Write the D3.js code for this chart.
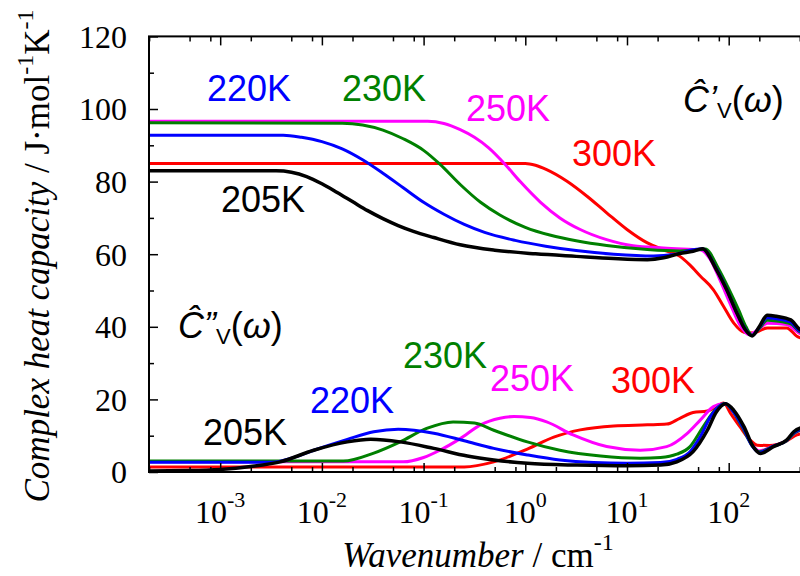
<html><head>
<script src="https://d3js.org/d3.v7.min.js"></script>
<style>
  body { margin: 0; background: #fff; }
  .curve { fill: none; stroke-linejoin: round; }
</style>
</head>
<body>
<script>
// x values are log10(wavenumber / cm^-1), y in J mol^-1 K^-1
// real part C'
var cp205 = [[-3.7,83],[-2.45,83],[-2.3,82.6],[-2.15,81.4],[-2.0,79.4],[-1.85,77],[-1.7,74.5],[-1.55,72],[-1.4,69.8],[-1.25,67.9],[-1.1,66.3],[-0.9,64.6],[-0.64,62.6],[-0.3,61.1],[0.1,60.1],[0.5,59.4],[0.87,58.8],[1.2,58.5],[1.36,59],[1.52,60.2],[1.65,60.8],[1.74,61.5],[1.88,55.7],[1.98,50.2],[2.08,43.8],[2.16,39.3],[2.23,37.5],[2.3,40],[2.38,43.2],[2.47,42.9],[2.61,41.9],[2.69,39.5],[2.75,38.5]];
var cp220 = [[-3.7,92.8],[-2.38,92.8],[-2.2,92.2],[-2.0,91],[-1.8,89],[-1.6,86],[-1.4,82.3],[-1.2,78.3],[-1.0,74.3],[-0.8,71],[-0.6,68.2],[-0.4,66],[-0.1,63.8],[0.2,62.2],[0.5,61],[0.87,60],[1.26,59.5],[1.46,59.9],[1.65,61.2],[1.74,61.5],[1.87,56.5],[1.97,51],[2.07,44.5],[2.15,40],[2.23,37.6],[2.3,39.8],[2.38,42.5],[2.47,42.2],[2.61,41.3],[2.69,39],[2.75,38.2]];
var cp230 = [[-3.7,96.2],[-1.8,96.1],[-1.6,95.6],[-1.4,94.2],[-1.2,91.8],[-1.0,88.6],[-0.84,84.8],[-0.64,79.2],[-0.44,74.3],[-0.25,70.8],[0.0,67.4],[0.25,65.2],[0.5,63.7],[0.8,62.4],[1.2,61.3],[1.52,60.9],[1.7,61.2],[1.77,61.4],[1.9,56],[2.0,50.5],[2.1,44.5],[2.17,40],[2.23,37.7],[2.3,39.5],[2.38,41.8],[2.47,41.6],[2.61,40.8],[2.69,38.8],[2.75,38]];
var cp250 = [[-3.7,96.6],[-0.96,96.6],[-0.8,96],[-0.64,94.3],[-0.5,92.2],[-0.36,89.3],[-0.2,84.8],[-0.05,80],[0.15,74.3],[0.34,70],[0.54,66.8],[0.8,64],[1.06,62.3],[1.36,61.7],[1.65,61.3],[1.72,61.2],[1.82,58.5],[1.92,52.5],[2.02,46],[2.11,40.5],[2.2,37.8],[2.3,39.5],[2.38,41],[2.57,40.6],[2.69,38.3],[2.75,37.5]];
var cp300 = [[-3.7,85],[0.0,85],[0.1,84.5],[0.21,83.3],[0.41,80.1],[0.61,75.9],[0.8,71.4],[1.0,66.8],[1.2,63.1],[1.36,61.2],[1.52,59.4],[1.62,57],[1.72,54],[1.85,50.2],[1.95,45.6],[2.05,41],[2.15,38.5],[2.24,38.3],[2.38,39.7],[2.57,39.7],[2.67,37.4],[2.75,36.5]];
// imaginary part C''
var cpp205 = [[-3.7,0.3],[-3.3,0.4],[-3.0,0.7],[-2.7,1.5],[-2.41,2.8],[-2.08,6.0],[-1.75,8.3],[-1.52,9.0],[-1.23,8.3],[-0.9,6.5],[-0.57,4.4],[-0.31,3.3],[0.02,2.4],[0.51,1.9],[1.0,1.7],[1.33,1.9],[1.49,2.8],[1.65,5.6],[1.79,11.5],[1.88,16.6],[1.97,18.8],[2.05,17.0],[2.15,12.5],[2.24,7.0],[2.31,5.1],[2.44,7.0],[2.57,8.8],[2.64,11.1],[2.75,12.5]];
var cpp220 = [[-3.7,2.7],[-2.48,2.7],[-2.3,3.8],[-2.08,6.0],[-1.75,9.0],[-1.49,11.1],[-1.25,11.8],[-0.9,10.7],[-0.6,8.6],[-0.31,6.5],[0.02,4.7],[0.34,3.3],[0.67,2.6],[1.0,2.4],[1.33,2.6],[1.49,3.5],[1.62,5.6],[1.72,9.7],[1.82,15.2],[1.93,18.5],[1.97,18.8],[2.04,16.8],[2.14,12.3],[2.23,7.2],[2.3,5.4],[2.44,7.1],[2.57,8.7],[2.64,10.8],[2.75,12.2]];
var cpp230 = [[-3.7,3.0],[-1.79,3.0],[-1.49,5.2],[-1.23,8.3],[-0.97,12.0],[-0.71,13.8],[-0.5,13.5],[-0.31,11.5],[0.02,8.3],[0.34,6.0],[0.74,4.4],[1.13,3.8],[1.33,4.0],[1.49,4.9],[1.62,7.0],[1.75,12.5],[1.88,17.5],[1.96,18.9],[2.04,16.8],[2.13,12.5],[2.23,7.3],[2.3,5.6],[2.44,7.1],[2.57,8.6],[2.64,10.6],[2.75,12]];
var cpp250 = [[-3.7,2.8],[-1.2,2.8],[-1.0,4.0],[-0.84,6.0],[-0.64,9.2],[-0.44,13.0],[-0.25,14.8],[-0.11,15.3],[0.05,15.0],[0.21,13.8],[0.47,10.2],[0.8,7.0],[1.13,6.0],[1.39,7.0],[1.59,10.6],[1.72,14.3],[1.85,18],[1.95,18.8],[2.03,17.5],[2.13,12.8],[2.23,7.5],[2.3,5.8],[2.44,7.2],[2.57,8.6],[2.64,10.5],[2.75,12]];
var cpp300 = [[-3.7,1.4],[-0.6,1.4],[-0.31,2.8],[0.02,6.3],[0.28,9.6],[0.54,11.6],[0.87,12.7],[1.2,13.0],[1.39,13.2],[1.52,14.8],[1.65,16.4],[1.79,16.8],[1.88,18.0],[1.95,19.0],[2.02,16.1],[2.11,12.5],[2.21,8.8],[2.28,7.4],[2.4,7.3],[2.57,8.6],[2.67,10.2],[2.75,10.8]];

var colors = ["#ff0000","#ff00ff","#008000","#0000ff","#000000"];
var realSeries = [cp300, cp250, cp230, cp220, cp205];
var imagSeries = [cpp300, cpp250, cpp230, cpp220, cpp205];
var yTicks = [0,20,40,60,80,100,120];
var yMinorTicks = [10,30,50,70,90,110];
var xTickExps = [-3,-2,-1,0,1,2];
var upperLabels = [["300K",572,166],["250K",466,121],["230K",342,101],["220K",207,101],["205K",221,212]];
var lowerLabels = [["300K",611,393],["250K",490,391],["230K",403,368],["220K",310,413],["205K",203,445]];

var SERIF = "Liberation Serif";
var SANS = "Liberation Sans";

var width = 800, height = 576;
var x = d3.scaleLog().domain([Math.pow(10,-3.7), 1000]).range([149, 830.4]);
var y = d3.scaleLinear().domain([0,120]).range([472, 36.4]);

var svg = d3.select("body").append("svg")
    .attr("width", width).attr("height", height);

svg.append("rect").attr("width", width).attr("height", height).attr("fill", "#fff");

svg.append("clipPath").attr("id","clip").append("rect")
    .attr("x",149).attr("y",36).attr("width",700).attr("height",436);

var line = d3.line()
    .x(function(d) { return x(Math.pow(10, d[0])); })
    .y(function(d) { return y(d[1]); })
    .curve(d3.curveMonotoneX);

var curves = svg.append("g").attr("clip-path","url(#clip)");
realSeries.concat(imagSeries).forEach(function(s, i) {
  curves.append("path")
     .datum(s)
     .attr("class","curve")
     .attr("stroke", colors[i % 5])
     .attr("stroke-width", i % 5 == 4 ? 3.5 : 3)
     .attr("d", line);
});

// minor x ticks at 2,5,8 per decade
var xMinor = [];
for (var e = -4; e <= 2; e++) [2,5,8].forEach(function(m){ var v = m*Math.pow(10,e); if (v > x.domain()[0] && v < 1000) xMinor.push(v); });
var xMajor = xTickExps.map(function(e){ return Math.pow(10,e); });

function noText(g){ g.select(".domain").remove(); g.selectAll("text").remove(); g.selectAll("line").attr("stroke","#000").attr("stroke-width",1.5); }

svg.append("g").attr("transform","translate(0,472)")
   .call(d3.axisBottom(x).tickValues(xMajor).tickSizeInner(-9).tickSizeOuter(0)).call(noText);
svg.append("g").attr("transform","translate(0,472)")
   .call(d3.axisBottom(x).tickValues(xMinor).tickSizeInner(-5).tickSizeOuter(0)).call(noText);
svg.append("g").attr("transform","translate(0,36.4)")
   .call(d3.axisTop(x).tickValues(xMajor).tickSizeInner(-9).tickSizeOuter(0)).call(noText);
svg.append("g").attr("transform","translate(0,36.4)")
   .call(d3.axisTop(x).tickValues(xMinor).tickSizeInner(-5).tickSizeOuter(0)).call(noText);

var yAx = svg.append("g").attr("transform","translate(149,0)")
   .call(d3.axisLeft(y).tickValues(yTicks).tickSizeInner(-9).tickSizeOuter(0).tickPadding(22));
yAx.select(".domain").remove();
yAx.attr("font-family", SERIF).attr("font-size", 32);
yAx.selectAll("line").attr("stroke","#000").attr("stroke-width",1.5);
yAx.selectAll("text").attr("fill","#000").attr("dy","0.34em");
svg.append("g").attr("transform","translate(149,0)")
   .call(d3.axisLeft(y).tickValues(yMinorTicks).tickSizeInner(-5).tickSizeOuter(0)).call(noText);

// frame
svg.append("rect").attr("x",149).attr("y",36.4).attr("width",830.4-149).attr("height",472-36.4)
   .attr("fill","none").attr("stroke","#000").attr("stroke-width",2);

// x tick labels 10^n
xTickExps.forEach(function(e) {
  var t = svg.append("text").attr("x", x(Math.pow(10,e))).attr("y", 523)
     .attr("text-anchor","middle").attr("font-family", SERIF).attr("font-size", 32);
  t.append("tspan").text("10");
  t.append("tspan").attr("font-size", 22).attr("dy", -16).text(e < 0 ? "-" + (-e) : e);
});

// axis titles
var xt = svg.append("text").attr("x", 478).attr("y", 567).attr("text-anchor","middle")
   .attr("font-family", SERIF).attr("font-size", 35);
xt.append("tspan").attr("font-style","italic").text("Wavenumber");
xt.append("tspan").text(" / cm");
xt.append("tspan").attr("font-size", 24).attr("dy", -17).text("-1");

var yt = svg.append("text").attr("transform","translate(49,256) rotate(-90)").attr("text-anchor","middle")
   .attr("font-family", SERIF).attr("font-size", 35);
yt.append("tspan").attr("font-style","italic").text("Complex heat capacity");
yt.append("tspan").text(" / J\u00b7mol");
yt.append("tspan").attr("font-size", 24).attr("dy", -16).text("-1");
yt.append("tspan").attr("dy", 16).text("K");
yt.append("tspan").attr("font-size", 24).attr("dy", -16).text("-1");

// temperature labels
var colorOf = {"300K":"#ff0000","250K":"#ff00ff","230K":"#008000","220K":"#0000ff","205K":"#000000"};
upperLabels.concat(lowerLabels).forEach(function(l) {
  svg.append("text").attr("x", l[1]).attr("y", l[2])
     .attr("font-family", SANS).attr("font-size", 36)
     .attr("fill", colorOf[l[0]]).text(l[0]);
});

function capLabel(px, py, prime) {
  var t = svg.append("text").attr("x", px).attr("y", py)
     .attr("font-family", SANS).attr("font-size", 36);
  t.append("tspan").attr("font-style","italic").text("\u0108" + prime);
  t.append("tspan").attr("font-size", 22).attr("dy", 6).text("V");
  t.append("tspan").attr("dy", -6).text("(");
  t.append("tspan").attr("font-style","italic").text("\u03c9");
  t.append("tspan").text(")");
}
capLabel(683, 112, "\u2019");
capLabel(178, 338, "\u201d");
</script>
</body></html>
